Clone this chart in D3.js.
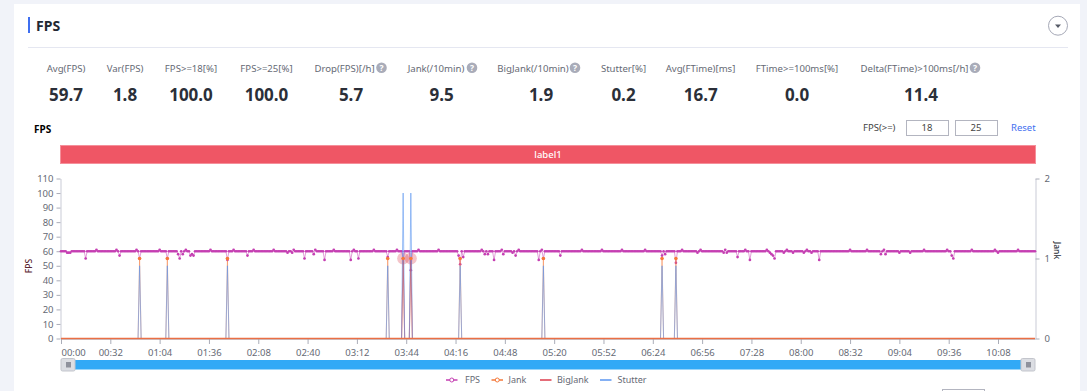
<!DOCTYPE html>
<html lang="en">
<head>
  <meta charset="UTF-8">
  <title>FPS</title>
  <script src="https://d3js.org/d3.v7.min.js" charset="utf-8"></script>
  <style>
    html, body { margin: 0; padding: 0; background: #f1f3f9; overflow: hidden; }
    svg { display: block; }
    text { font-family: "Noto Sans", sans-serif; }
  </style>
</head>
<body>
  <div id="wrapper"></div>
  <script>
    const metricLabels = ['Avg(FPS)', 'Var(FPS)', 'FPS>=18[%]', 'FPS>=25[%]', 'Drop(FPS)[/h]', 'Jank(/10min)', 'BigJank(/10min)', 'Stutter[%]', 'Avg(FTime)[ms]', 'FTime>=100ms[%]', 'Delta(FTime)>100ms[/h]']
    const metricValues = ['59.7', '1.8', '100.0', '100.0', '5.7', '9.5', '1.9', '0.2', '16.7', '0.0', '11.4']
    const metricHelp = [false, false, false, false, true, true, true, false, false, false, true]

    const xTickSeconds = [0, 32, 64, 96, 128, 160, 192, 224, 256, 288, 320, 352, 384, 416, 448, 480, 512, 544, 576, 608]
    const xTickLabels = ['00:00', '00:32', '01:04', '01:36', '02:08', '02:40', '03:12', '03:44', '04:16', '04:48', '05:20', '05:52', '06:24', '06:56', '07:28', '08:00', '08:32', '09:04', '09:36', '10:08']
    const fpsTicks = [0, 10, 20, 30, 40, 50, 60, 70, 80, 90, 100, 110]
    const jankTicks = [0, 1, 2]
    const legendNames = ['FPS', 'Jank', 'BigJank', 'Stutter']

    // one sample per second, 32 per row
    const fpsValues = [
      60,60,60,60,59,59,59,60,60,60,60,60,60,60,60,60,55,60,60,60,60,60,60,61,60,60,60,60,60,60,60,60,
      60,60,60,60,61,60,57,60,60,60,60,60,60,60,60,60,60,61,60,55,60,60,60,60,60,60,60,60,60,60,60,60,
      61,60,60,60,60,55,60,60,60,60,60,60,58,55,60,58,60,61,60,60,57,58,57,60,60,60,60,60,60,60,60,60,
      60,61,60,60,60,60,60,60,60,60,60,60,54,60,60,60,61,60,60,60,60,60,60,60,60,57,60,60,60,61,60,60,
      60,60,60,60,60,60,60,60,60,60,61,60,60,60,60,60,60,60,60,59,60,60,59,61,60,60,60,60,60,60,55,60,
      60,60,60,60,58,61,60,60,60,60,60,54,60,60,60,60,60,61,60,60,60,60,60,60,60,60,60,60,54,60,61,60,
      60,55,60,60,60,60,60,60,60,60,60,61,60,60,60,60,60,60,60,60,56,60,60,60,60,60,61,60,60,60,55,60,
      60,60,60,47,60,60,60,60,61,60,60,60,60,60,60,60,60,60,60,60,60,61,60,60,60,60,60,60,60,60,60,60,
      60,60,57,51,60,56,60,60,60,60,60,60,60,60,60,60,60,61,60,58,60,58,60,60,60,54,60,60,60,60,61,58,
      60,60,60,60,60,59,60,57,60,61,60,60,60,60,60,60,60,60,60,60,60,60,54,60,61,55,60,60,60,60,60,60,
      60,60,60,60,57,60,60,60,60,60,60,60,60,60,60,60,60,60,61,60,60,60,60,60,60,60,60,60,60,60,60,61,
      60,60,60,60,60,60,60,60,60,60,60,60,61,60,60,60,60,60,60,60,60,60,60,60,60,60,60,61,60,60,60,60,
      60,60,60,60,60,60,57,60,58,60,60,60,60,60,60,52,60,60,60,61,60,60,60,60,60,60,60,60,60,59,60,61,
      60,60,60,60,60,60,60,60,60,60,60,60,60,60,59,61,59,60,60,60,60,60,60,56,60,60,60,60,61,60,60,54,
      60,60,60,60,60,60,60,60,60,60,61,60,59,58,57,55,60,60,60,60,60,59,60,61,60,60,60,59,60,60,60,60,
      60,60,59,60,61,60,60,59,60,60,60,60,54,60,60,60,60,60,60,60,60,60,60,60,60,60,60,60,60,60,60,60,
      61,60,60,60,60,60,60,60,60,60,60,61,60,60,60,60,60,60,60,60,58,60,61,58,60,60,60,60,60,60,60,60,
      59,60,60,60,60,60,60,59,60,60,60,60,60,60,60,60,61,60,60,60,60,60,60,60,60,60,60,60,60,60,60,61,
      60,60,57,55,60,60,60,60,60,60,60,60,60,60,60,61,60,60,60,60,60,60,60,60,60,60,60,60,60,60,61,60,
      59,60,60,60,60,60,60,60,60,60,60,60,60,61,60,60,60,60,60,60,60,60,60,60,60
    ]

    // the other series are zero except at these seconds
    const jankSeconds = [51, 69, 108, 212, 222, 227, 259, 313, 390, 399]
    const jankValues = [1, 1, 1, 1, 1, 1, 1, 1, 1, 1]
    const bigJankSeconds = [222, 227]
    const bigJankValues = [1, 1]
    const stutterSeconds = [51, 69, 108, 212, 222, 227, 259, 313, 390, 399]
    const stutterValues = [50, 50, 50, 50, 100, 100, 50, 50, 50, 50]

    const lastSecond = fpsValues.length - 1

    const colors = { fps: '#c53fb2', jank: '#f5793a', bigJank: '#dc3d4c', stutter: '#5b96f0' }
    const textGray = '#666a75'

    const drawChart = () => {
      const dimensions = { width: 1087, height: 391, left: 61, right: 1035, top: 178.5, bottom: 338.5 }

      const svg = d3.select('#wrapper').append('svg')
        .attr('width', dimensions.width)
        .attr('height', dimensions.height)

      // card
      svg.append('rect').attr('x', 14).attr('y', 4).attr('width', 1066).attr('height', 387).attr('fill', '#fff')
      svg.append('rect').attr('x', 28).attr('y', 17).attr('width', 2).attr('height', 16).attr('fill', '#3f6ff0')
      svg.append('text').attr('x', 36).attr('y', 31).text('FPS')
        .attr('font-size', 14).attr('font-weight', 700).attr('fill', '#222832')
      svg.append('line').attr('x1', 28).attr('x2', 1068).attr('y1', 47.5).attr('y2', 47.5).attr('stroke', '#e5e7f1')

      // collapse button
      svg.append('circle').attr('cx', 1058).attr('cy', 25.7).attr('r', 9.5)
        .attr('fill', '#fff').attr('stroke', '#a5a8b6')
      svg.append('path').attr('d', 'M1055 24.5h6l-3 3.5z').attr('fill', '#555a66')

      // metrics row
      const metricCenters = [66, 125, 191, 266.5, 344.5, 436, 533, 623.5, 700.5, 797, 914.5]
      const valueCenters = [66, 125, 191, 266.5, 351, 441.7, 541, 623.5, 700.8, 797, 921]
      const helpX = [0, 0, 0, 0, 381.5, 472, 575, 0, 0, 0, 975]
      metricLabels.forEach((label, i) => {
        svg.append('text').attr('x', metricCenters[i]).attr('y', 71.5).text(label)
          .attr('text-anchor', 'middle').attr('font-size', 9.6).attr('fill', textGray)
        svg.append('text').attr('x', valueCenters[i]).attr('y', 100.5).text(metricValues[i])
          .attr('text-anchor', 'middle').attr('font-size', 17).attr('font-weight', 700).attr('fill', '#2b2f38')
        if (metricHelp[i]) {
          svg.append('circle').attr('cx', helpX[i]).attr('cy', 67.7).attr('r', 5.3).attr('fill', '#a9acb9')
          svg.append('text').attr('x', helpX[i]).attr('y', 70.8).text('?')
            .attr('text-anchor', 'middle').attr('font-size', 8.5).attr('font-weight', 700).attr('fill', '#fff')
        }
      })

      // chart header
      svg.append('text').attr('x', 34).attr('y', 133).text('FPS')
        .attr('font-size', 10).attr('font-weight', 700).attr('fill', '#000')
      svg.append('text').attr('x', 863).attr('y', 131).text('FPS(>=)')
        .attr('font-size', 9.5).attr('fill', '#444')
      const inputs = [[906, 42, '18'], [955, 42, '25']]
      inputs.forEach(([x, w, label]) => {
        svg.append('rect').attr('x', x + 0.5).attr('y', 120.5).attr('width', w).attr('height', 15)
          .attr('fill', '#fff').attr('stroke', '#b3b5c0')
        svg.append('text').attr('x', x + w / 2).attr('y', 131).text(label)
          .attr('text-anchor', 'middle').attr('font-size', 9.5).attr('fill', '#444')
      })
      svg.append('text').attr('x', 1011).attr('y', 131).text('Reset')
        .attr('font-size', 9.5).attr('fill', '#3f6ff0')

      // label band
      svg.append('rect').attr('x', 60.5).attr('y', 145.5).attr('width', 975).attr('height', 18)
        .attr('fill', '#ef5665').attr('stroke', '#f58f9a')
      svg.append('text').attr('x', 548).attr('y', 158).text('label1')
        .attr('text-anchor', 'middle').attr('font-size', 9.5).attr('font-weight', 500).attr('fill', '#fff')

      // scales
      const xScale = d3.scaleLinear().domain([0, lastSecond]).range([dimensions.left, dimensions.right])
      const yScale = d3.scaleLinear().domain([0, 110]).range([dimensions.bottom, dimensions.top])
      const jankScale = d3.scaleLinear().domain([0, 2]).range([dimensions.bottom, dimensions.top])

      // axes
      const xAxis = svg.append('g')
        .attr('transform', `translate(0, ${dimensions.bottom + 0.5})`)
        .call(d3.axisBottom(xScale).tickValues(xTickSeconds).tickFormat((d, i) => xTickLabels[i]).tickSize(5).tickSizeOuter(0))
      const yAxis = svg.append('g')
        .attr('transform', `translate(${dimensions.left - 0.5}, 0)`)
        .call(d3.axisLeft(yScale).tickValues(fpsTicks).tickSize(4).tickSizeOuter(0))
      const jankAxis = svg.append('g')
        .attr('transform', `translate(${dimensions.right + 0.5}, 0)`)
        .call(d3.axisRight(jankScale).tickValues(jankTicks).tickFormat(d3.format('d')).tickSize(4).tickSizeOuter(0))
      ;[xAxis, yAxis, jankAxis].forEach(axis => {
        axis.selectAll('.domain').attr('stroke', '#c9cbd6')
        axis.selectAll('.tick line').attr('stroke', '#aaadb8')
        axis.selectAll('text').attr('font-size', 9.5).attr('fill', textGray).attr('font-family', '"Noto Sans", sans-serif')
      })
      xAxis.selectAll('text').attr('dy', '0.9em')
      // first label starts at the axis instead of centring on it
      xAxis.select('.tick text').attr('text-anchor', 'start')
      jankAxis.selectAll('text').attr('x', 9)

      svg.append('text').attr('transform', 'translate(32, 266) rotate(-90)').text('FPS')
        .attr('text-anchor', 'middle').attr('font-size', 8.5).attr('font-weight', 500).attr('fill', '#5a2530')
      svg.append('text').attr('transform', 'translate(1053.5, 250.5) rotate(90)').text('Jank')
        .attr('text-anchor', 'middle').attr('font-size', 8.5).attr('font-weight', 500).attr('fill', '#2b2f38')

      // spike series: back to zero one sample either side
      const spikePoints = (seconds, values) => {
        const points = [[0, 0]]
        seconds.forEach((s, i) => {
          points.push([s - 1, 0], [s, values[i]], [s + 1, 0])
        })
        points.push([lastSecond, 0])
        return points
      }

      const lineOf = scale => d3.line().x(d => xScale(d[0])).y(d => scale(d[1]))

      // fps
      const fpsPoints = fpsValues.map((v, i) => [i, v])
      svg.append('path').attr('d', lineOf(yScale)(fpsPoints))
        .attr('fill', 'none').attr('stroke', colors.fps).attr('stroke-width', 1).attr('stroke-opacity', 0.5)
      svg.append('g').selectAll('circle').data(fpsPoints).join('circle')
        .attr('cx', d => xScale(d[0])).attr('cy', d => yScale(d[1])).attr('r', 1.35)
        .attr('fill', colors.fps)

      // jank spikes sit under stutter
      svg.append('path').attr('d', lineOf(jankScale)(spikePoints(jankSeconds, jankValues)))
        .attr('fill', 'none').attr('stroke', colors.jank).attr('stroke-width', 1).attr('stroke-opacity', 0.5)

      // big jank with halo
      svg.append('path').attr('d', lineOf(jankScale)(spikePoints(bigJankSeconds, bigJankValues)))
        .attr('fill', 'none').attr('stroke', colors.bigJank).attr('stroke-width', 1).attr('stroke-opacity', 0.6)
      svg.append('g').selectAll('circle').data(bigJankSeconds).join('circle')
        .attr('cx', d => xScale(d)).attr('cy', (d, i) => jankScale(bigJankValues[i])).attr('r', 6)
        .attr('fill', colors.bigJank).attr('fill-opacity', 0.3)

      // stutter
      svg.append('path').attr('d', lineOf(yScale)(spikePoints(stutterSeconds, stutterValues)))
        .attr('fill', 'none').attr('stroke', colors.stutter).attr('stroke-width', 1).attr('stroke-opacity', 0.6)

      // zero line and jank markers on top
      svg.append('path').attr('d', lineOf(jankScale)([[0, 0], [lastSecond, 0]]))
        .attr('fill', 'none').attr('stroke', '#ea6f45').attr('stroke-width', 1.3)
      svg.append('g').selectAll('circle').data(jankSeconds).join('circle')
        .attr('cx', d => xScale(d)).attr('cy', (d, i) => jankScale(jankValues[i])).attr('r', 1.8)
        .attr('fill', colors.jank)

      // zoom slider
      svg.append('rect').attr('x', 68).attr('y', 360).attr('width', 960).attr('height', 9.5).attr('fill', '#31a9f6')
      ;[61, 1021].forEach(x => {
        svg.append('rect').attr('x', x).attr('y', 358.5).attr('width', 14).attr('height', 12.5).attr('rx', 1.5)
          .attr('fill', '#dcdee3').attr('stroke', '#c3c5cc')
        svg.append('rect').attr('x', x + 5).attr('y', 362).attr('width', 5).attr('height', 5.5).attr('fill', '#8f929c')
      })

      // legend
      const legendLineX = [446, 491.5, 540, 600]
      const legendTextX = [465, 508.5, 557, 617.5]
      const legendColors = [colors.fps, colors.jank, colors.bigJank, colors.stutter]
      const legendMarker = [true, true, false, false]
      legendNames.forEach((name, i) => {
        svg.append('line').attr('x1', legendLineX[i]).attr('x2', legendLineX[i] + 11.5).attr('y1', 380).attr('y2', 380)
          .attr('stroke', legendColors[i]).attr('stroke-width', 1.5)
        if (legendMarker[i]) {
          svg.append('circle').attr('cx', legendLineX[i] + 5.75).attr('cy', 380).attr('r', 2)
            .attr('fill', '#fff').attr('stroke', legendColors[i])
        }
        svg.append('text').attr('x', legendTextX[i]).attr('y', 383).text(name)
          .attr('font-size', 9).attr('fill', textGray)
      })

      // top edge of the next input, cut off by the window
      svg.append('rect').attr('x', 942.5).attr('y', 389.5).attr('width', 42).attr('height', 12)
        .attr('fill', '#fff').attr('stroke', '#b3b5c0')
    }

    drawChart()
  </script>
</body>
</html>
